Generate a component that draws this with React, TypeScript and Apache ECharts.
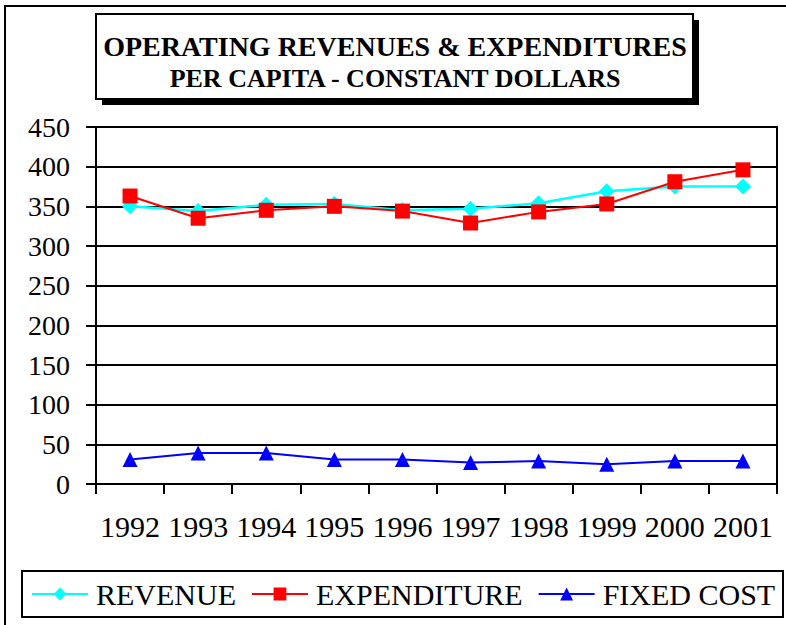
import React, { useEffect, useRef } from "react";
import * as echarts from "echarts";

const years = ["1992", "1993", "1994", "1995", "1996", "1997", "1998", "1999", "2000", "2001"];
const revenue = [350, 344, 352, 353, 345, 347, 354, 369, 375, 375];
const expenditure = [363, 335, 345, 350, 344, 329, 343, 353, 381, 396];
const fixedCost = [31, 39, 39, 31, 31, 27, 29, 25, 29, 29];
const titleLine1 = "OPERATING REVENUES & EXPENDITURES";
const titleLine2 = "PER CAPITA - CONSTANT DOLLARS";

const FONT = "Liberation Serif";

export default function App() {
  const ref = useRef<HTMLDivElement>(null);
  useEffect(() => {
    if (!ref.current) return;
    const chart = echarts.init(ref.current, undefined, { renderer: "svg" });
    chart.setOption({
      animation: false,
      backgroundColor: "#ffffff",
      textStyle: { fontFamily: FONT },
      grid: {
        left: 96,
        right: 9,
        top: 127,
        bottom: 141,
        show: true,
        borderColor: "#000",
        borderWidth: 2,
      },
      xAxis: {
        type: "category",
        data: years,
        boundaryGap: true,
        axisLine: { lineStyle: { color: "#000", width: 2 } },
        axisTick: { show: true, length: 10, lineStyle: { color: "#000", width: 2 } },
        axisLabel: { color: "#000", fontSize: 30, fontFamily: FONT, margin: 27, interval: 0 },
        splitLine: { show: false },
      },
      yAxis: {
        type: "value",
        min: 0,
        max: 450,
        interval: 50,
        axisLine: { show: true, lineStyle: { color: "#000", width: 2 } },
        axisTick: { show: true, length: 10, lineStyle: { color: "#000", width: 2 } },
        axisLabel: { color: "#000", fontSize: 28, fontFamily: FONT, margin: 26 },
        splitLine: { show: true, lineStyle: { color: "#000", width: 2 } },
      },
      legend: {
        left: 26,
        top: 574,
        itemWidth: 56,
        itemHeight: 16,
        itemGap: 15,
        textStyle: { color: "#000", fontSize: 30, fontFamily: FONT, padding: [0, 0, 0, 3] },
        data: ["REVENUE", "EXPENDITURE", "FIXED COST"],
      },
      graphic: [
        {
          type: "rect",
          shape: { x: 5, y: 6, width: 800, height: 640 },
          style: { fill: "none", stroke: "#000", lineWidth: 2 },
          silent: true,
        },
        {
          type: "rect",
          shape: { x: 102, y: 20, width: 597, height: 85 },
          style: { fill: "#000" },
          silent: true,
        },
        {
          type: "rect",
          shape: { x: 96, y: 14, width: 597, height: 85 },
          style: { fill: "#fff", stroke: "#000", lineWidth: 2 },
          silent: true,
        },
        {
          type: "text",
          x: 395,
          y: 46,
          style: {
            text: titleLine1,
            fill: "#000",
            fontFamily: FONT,
            fontWeight: "bold",
            fontSize: 28,
            textAlign: "center",
            textVerticalAlign: "middle",
          },
          silent: true,
        },
        {
          type: "text",
          x: 395,
          y: 78,
          style: {
            text: titleLine2,
            fill: "#000",
            fontFamily: FONT,
            fontWeight: "bold",
            fontSize: 26,
            textAlign: "center",
            textVerticalAlign: "middle",
          },
          silent: true,
        },
        {
          type: "rect",
          shape: { x: 22, y: 571, width: 761, height: 46 },
          style: { fill: "none", stroke: "#000", lineWidth: 2 },
          silent: true,
        },
      ],
      series: [
        {
          name: "REVENUE",
          type: "line",
          data: revenue,
          symbol: "diamond",
          symbolSize: 16,
          color: "#00ffff",
          lineStyle: { color: "#00ffff", width: 2.5 },
          itemStyle: { color: "#00ffff" },
        },
        {
          name: "EXPENDITURE",
          type: "line",
          data: expenditure,
          symbol: "rect",
          symbolSize: 15,
          color: "#ff0000",
          lineStyle: { color: "#ff0000", width: 2 },
          itemStyle: { color: "#ff0000" },
        },
        {
          name: "FIXED COST",
          type: "line",
          data: fixedCost,
          symbol: "triangle",
          symbolSize: 15,
          color: "#0000ff",
          lineStyle: { color: "#0000ff", width: 2 },
          itemStyle: { color: "#0000ff" },
        },
      ],
    });
    return () => chart.dispose();
  }, []);
  return (
    <div
      ref={ref}
      style={{ position: "fixed", left: 0, top: 0, width: 786, height: 625 }}
    />
  );
}
